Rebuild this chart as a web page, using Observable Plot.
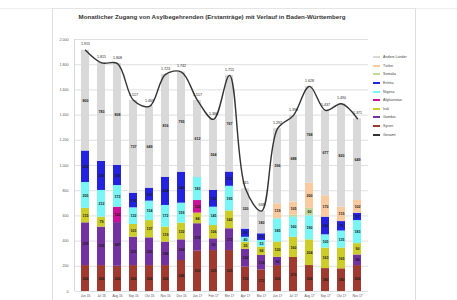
<!DOCTYPE html>
<html><head><meta charset="utf-8">
<script src="https://cdn.jsdelivr.net/npm/d3@7"></script>
<script src="https://cdn.jsdelivr.net/npm/@observablehq/plot@0.6"></script>
<style>
html,body{margin:0;padding:0;background:#fff;}
#wrap{position:relative;width:457px;height:300px;overflow:hidden;font-family:"Liberation Sans",Arial,sans-serif;}
#frame{position:absolute;left:52px;top:8px;width:362px;height:300px;border-left:1px solid #ddd;border-right:1px solid #ddd;border-top:1px solid #e4e4e4;}
#topline{position:absolute;left:0;top:8px;width:457px;height:0;border-top:1px solid #eee;}
#axisline{position:absolute;left:74px;top:39px;width:0;height:252px;border-left:1px solid #d8d8d8;}
#title{position:absolute;left:52px;width:320px;top:13px;text-align:center;font-size:6.2px;font-weight:bold;color:#333;white-space:nowrap;}
#chart{position:absolute;left:0;top:0;}
#legend{position:absolute;left:373px;top:53px;font-size:3.6px;color:#444;}
#legend div{height:8.6px;display:flex;align-items:center;white-space:nowrap;}
#legend span.sw{display:inline-block;width:7px;height:2px;margin-right:3px;}
</style></head>
<body><div id="wrap">
<div id="topline"></div>
<div id="frame"></div>
<div id="axisline"></div>
<div id="title">Monatlicher Zugang von Asylbegehrenden (Erstanträge) mit Verlauf in Baden-Württemberg</div>
<div id="chart"></div>
<div id="legend"></div>
</div>
<script>
const months = ["Jun 16","Jul 16","Aug 16","Sep 16","Okt 16","Nov 16","Dez 16","Jan 17","Feb 17","Mrz 17","Apr 17","Mai 17","Jun 17","Jul 17","Aug 17","Sep 17","Okt 17","Nov 17"];
const gesamt      = [1915,1815,1808,1517,1469,1723,1742,1517,1366,1715,815,638,1292,1398,1628,1437,1490,1371];
const syrien      = [206,206,200,206,206,206,246,320,325,325,193,172,206,270,206,182,180,206];
const gambia      = [339,305,347,225,220,186,164,218,93,173,142,114,66,0,0,0,0,84];
const irak        = [115,79,0,101,137,119,132,84,106,142,55,66,120,160,204,163,165,90];
const afghanistan = [0,0,122,0,0,0,0,100,0,0,0,0,0,0,0,0,0,0];
const nigeria     = [205,212,172,132,154,172,159,183,145,195,40,53,185,160,190,105,135,183];
const eritrea     = [250,230,159,116,103,224,246,0,133,113,65,53,0,0,0,140,75,57];
const somalia     = [0,0,0,0,0,0,0,0,0,0,0,0,0,15,60,0,0,0];
const tuerkei     = [0,0,0,0,0,0,0,0,0,0,0,0,119,105,200,170,115,102];
const yTicks = [0,200,400,600,800,1000,1200,1400,1600,1800,2000];

const seriesNames = ["Syrien","Gambia","Irak","Afghanistan","Nigeria","Eritrea","Somalia","Türkei","Andere Länder"];
const seriesColors = ["#a03a30","#7232a2","#cdcd2a","#cc0f99","#78f6f6","#2323df","#c3d69b","#f9c9a0","#d9d9d9"];
const known = [syrien,gambia,irak,afghanistan,nigeria,eritrea,somalia,tuerkei];
const andere = months.map((m,i)=>gesamt[i]-known.reduce((s,a)=>s+a[i],0));
const allSeries = [...known, andere];

const rows = [];
seriesNames.forEach((s,k)=>months.forEach((m,i)=>rows.push({month:m, series:s, value:allSeries[k][i]})));
const totals = months.map((m,i)=>({month:m, value:gesamt[i]}));

const fmt = d3.format(",");
const de = v => fmt(v).replace(/,/g,".");

const chart = Plot.plot({
  width:457, height:300,
  marginLeft:75, marginRight:89, marginTop:39, marginBottom:9,
  style:{fontFamily:"Liberation Sans, Arial, sans-serif", background:"transparent"},
  x:{domain:months, paddingInner:0.48, paddingOuter:0.24, axis:null},
  y:{domain:[0,2000], axis:null},
  color:{domain:seriesNames, range:seriesColors},
  marks:[
    Plot.gridY(yTicks,{stroke:"#d8d8d8", strokeOpacity:1, strokeWidth:0.8}),
    Plot.axisY(yTicks,{tickSize:0, tickPadding:7, fontSize:3.6, fill:"#555", tickFormat:de, label:null}),
    Plot.axisX(months,{tickSize:0, tickPadding:3, fontSize:3.2, fill:"#555", label:null}),
    Plot.barY(rows, Plot.stackY({x:"month", y:"value", z:"series", fill:"series", order:seriesNames})),
    Plot.text(rows, Plot.stackY({x:"month", y:"value", z:"series", order:seriesNames, text:d=>d.value>=40?String(d.value):"", fontSize:3.6, fontWeight:"bold", fill:"#1a1a1a"})),
    Plot.line(totals,{x:"month", y:"value", curve:"catmull-rom", stroke:"#333", strokeWidth:1.4}),
    Plot.text(totals,{x:"month", y:"value", text:d=>de(d.value), dy:-6, fontSize:3.6, fill:"#222"})
  ]
});
document.getElementById("chart").appendChild(chart);

const legendItems = [...seriesNames].reverse().map((s)=>({name:s, color:seriesColors[seriesNames.indexOf(s)]}));
legendItems.push({name:"Gesamt", color:"#333"});
const lg = document.getElementById("legend");
legendItems.forEach(it=>{
  const d = document.createElement("div");
  d.innerHTML = `<span class="sw" style="background:${it.color}"></span>${it.name}`;
  lg.appendChild(d);
});
</script>
</body></html>
